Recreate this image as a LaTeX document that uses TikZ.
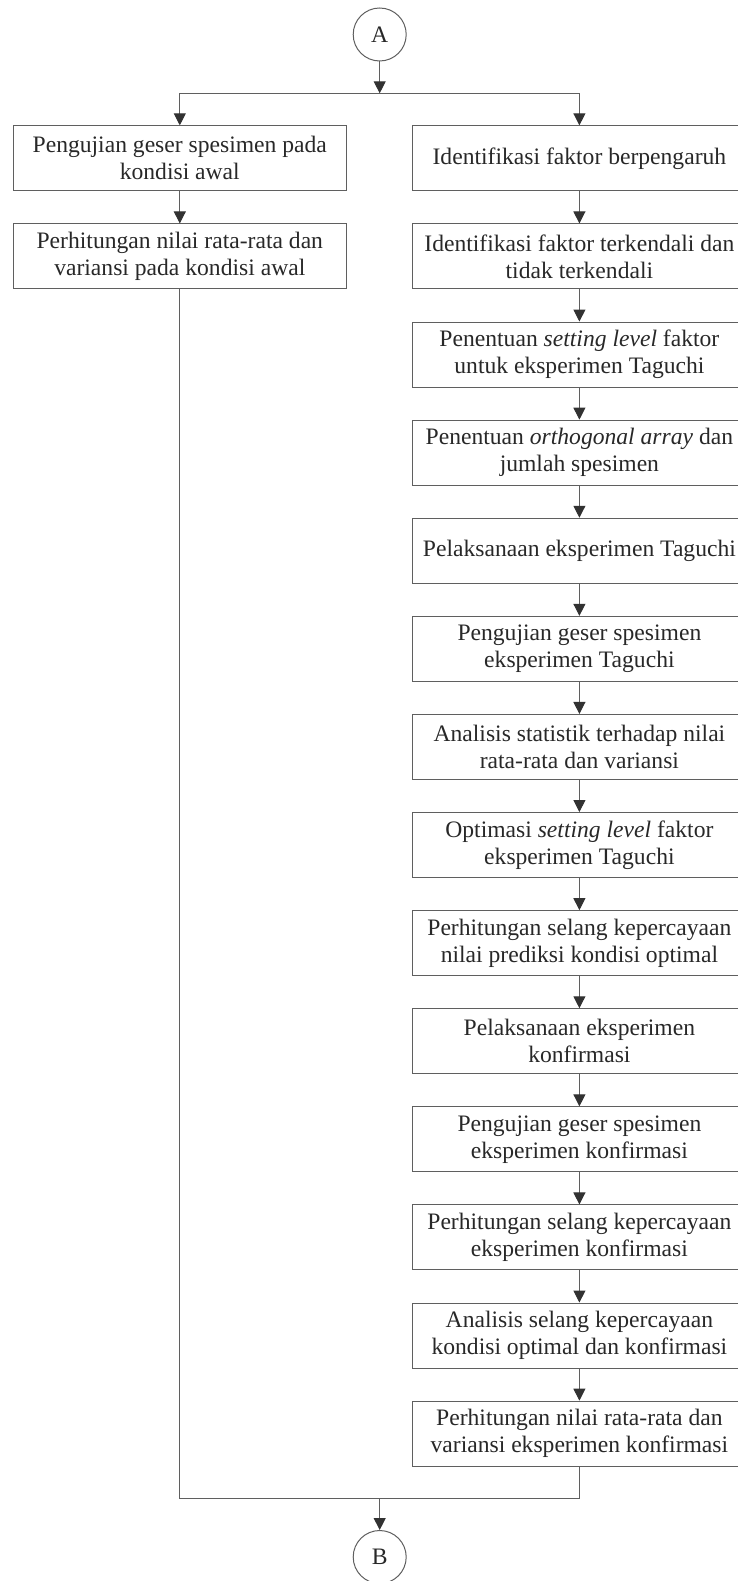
\documentclass[tikz,border=0pt]{standalone}
\usepackage{fontspec}
\setmainfont{Liberation Serif}
\usetikzlibrary{arrows.meta}
\definecolor{linecol}{RGB}{95,95,95}
\definecolor{tipcol}{RGB}{50,50,50}
\definecolor{textcol}{RGB}{40,40,40}
\tikzset{
  box/.style={draw=linecol, line width=1pt, minimum width=333pt, minimum height=65pt,
    inner sep=0pt, align=center, text=textcol, font=\fontsize{23.6}{27}\selectfont},
  conn/.style={draw=linecol, line width=1pt},
  arr/.style={conn, -{Triangle[length=12pt,width=12pt,color=tipcol]}},
  term/.style={circle, draw=linecol, line width=1pt, minimum size=53pt, inner sep=0pt,
    text=textcol, font=\fontsize{23.6}{27}\selectfont}
}
\begin{document}
\begin{tikzpicture}[x=1pt,y=-1pt]
\useasboundingbox (0,0) rectangle (737,1581);
\node[term] (A) at (379.7,34.5) {A};
\node[term] (B) at (379.7,1557) {B};

\node[box] (l1) at (179.8,158.35) {Pengujian geser spesimen pada\\kondisi awal};
\node[box] (l2) at (179.8,256.45) {Perhitungan nilai rata-rata dan\\variansi pada kondisi awal};

\node[box] (r1) at (579.4,158.35) {Identifikasi faktor berpengaruh};
\node[box] (r2) at (579.4,256.45) {Identifikasi faktor terkendali dan\\tidak terkendali};
\node[box] (r3) at (579.4,354.55) {Penentuan \textit{setting level} faktor\\untuk eksperimen Taguchi};
\node[box] (r4) at (579.4,452.65) {Penentuan \textit{orthogonal array} dan\\jumlah spesimen};
\node[box] (r5) at (579.4,550.75) {Pelaksanaan eksperimen Taguchi};
\node[box] (r6) at (579.4,648.85) {Pengujian geser spesimen\\eksperimen Taguchi};
\node[box] (r7) at (579.4,746.95) {Analisis statistik terhadap nilai\\rata-rata dan variansi};
\node[box] (r8) at (579.4,845.05) {Optimasi \textit{setting level} faktor\\eksperimen Taguchi};
\node[box] (r9) at (579.4,943.15) {Perhitungan selang kepercayaan\\nilai prediksi kondisi optimal};
\node[box] (r10) at (579.4,1041.25) {Pelaksanaan eksperimen\\konfirmasi};
\node[box] (r11) at (579.4,1139.35) {Pengujian geser spesimen\\eksperimen konfirmasi};
\node[box] (r12) at (579.4,1237.45) {Perhitungan selang kepercayaan\\eksperimen konfirmasi};
\node[box] (r13) at (579.4,1335.55) {Analisis selang kepercayaan\\kondisi optimal dan konfirmasi};
\node[box] (r14) at (579.4,1433.65) {Perhitungan nilai rata-rata dan\\variansi eksperimen konfirmasi};

\coordinate (j1) at (379.7,93.3);
\coordinate (j2) at (379.7,1498.3);

\draw[arr] (A) -- (j1);
\draw[arr] (j1) -| (l1);
\draw[arr] (j1) -| (r1);
\draw[arr] (l1) -- (l2);
\draw[arr] (r1) -- (r2);
\draw[arr] (r2) -- (r3);
\draw[arr] (r3) -- (r4);
\draw[arr] (r4) -- (r5);
\draw[arr] (r5) -- (r6);
\draw[arr] (r6) -- (r7);
\draw[arr] (r7) -- (r8);
\draw[arr] (r8) -- (r9);
\draw[arr] (r9) -- (r10);
\draw[arr] (r10) -- (r11);
\draw[arr] (r11) -- (r12);
\draw[arr] (r12) -- (r13);
\draw[arr] (r13) -- (r14);
\draw[conn] (l2.south) |- (j2) -| (r14.south);
\draw[arr] (j2) -- (B);
\end{tikzpicture}
\end{document}
